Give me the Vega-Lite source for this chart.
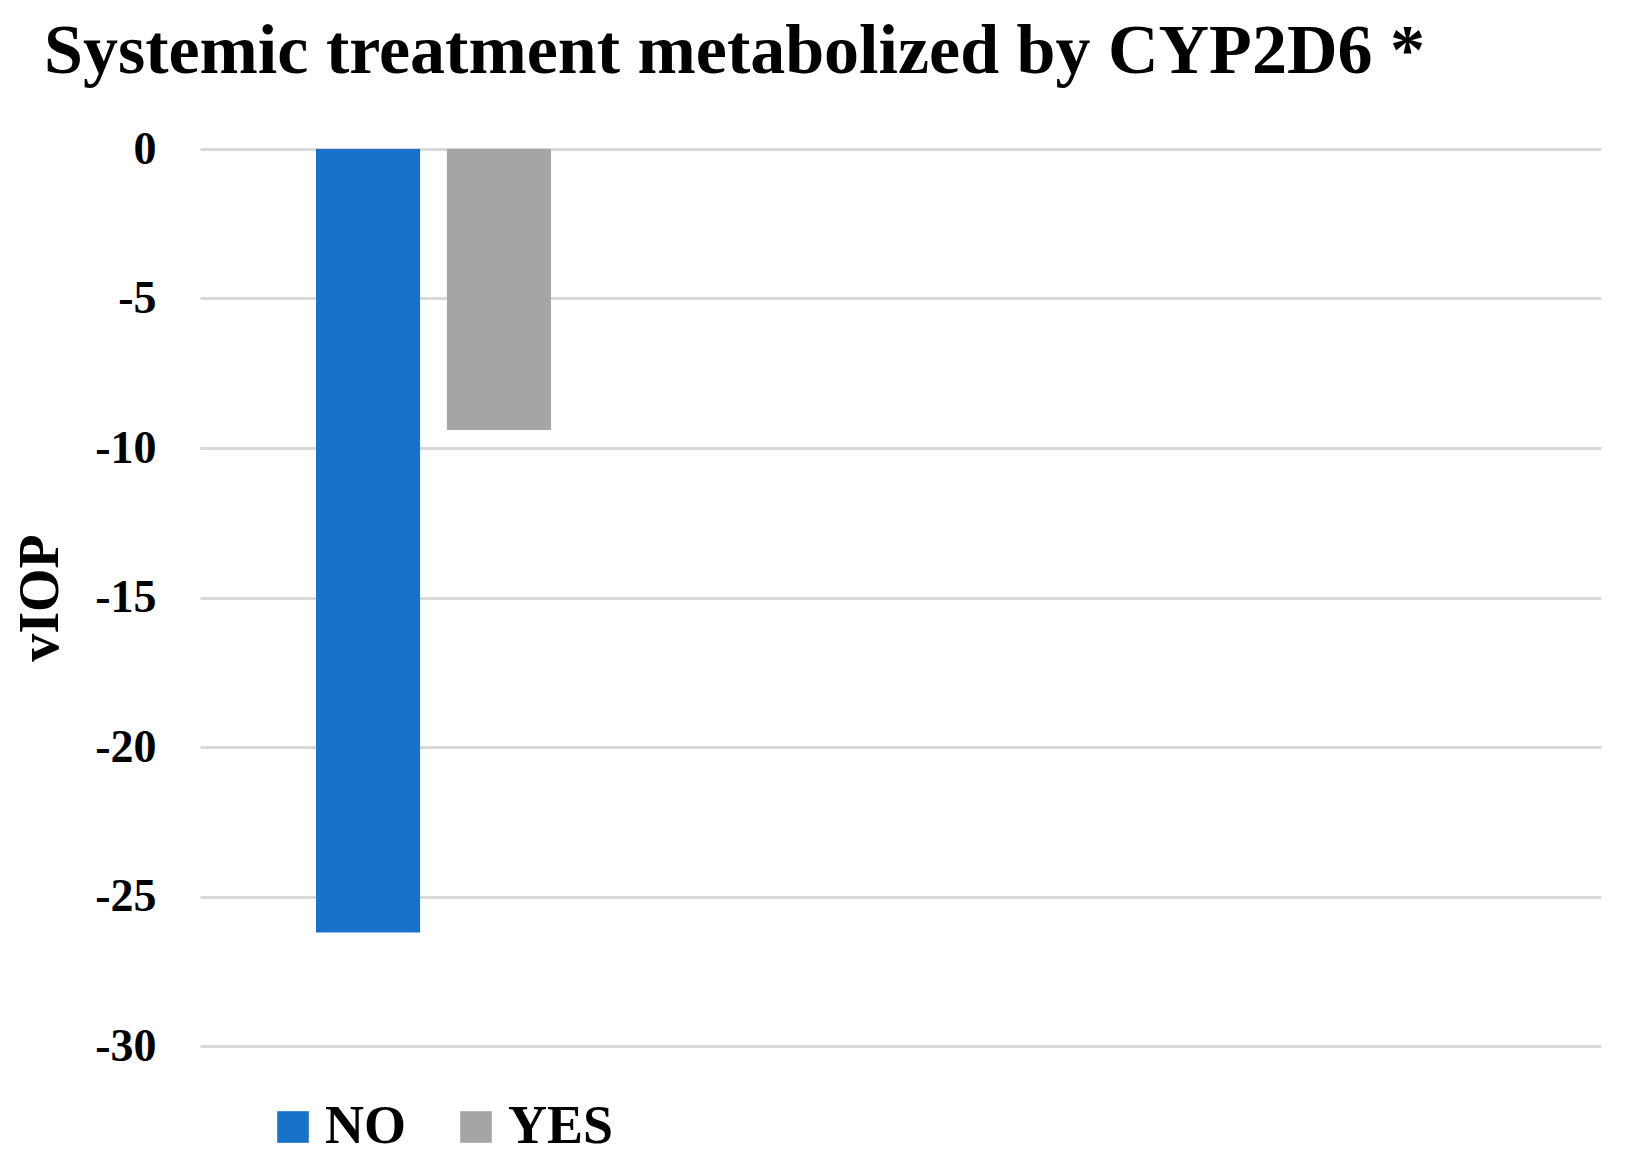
{
  "$schema": "https://vega.github.io/schema/vega-lite/v6.json",
  "width": 1401,
  "height": 897,
  "autosize": {"type": "none"},
  "padding": {"left": 200, "top": 149, "right": 29, "bottom": 112},
  "background": "white",
  "config": {
    "view": {"stroke": null},
    "font": "Liberation Serif"
  },
  "title": {
    "text": "Systemic treatment metabolized by CYP2D6 *",
    "anchor": "start",
    "frame": "group",
    "dx": -156,
    "offset": 38,
    "font": "Liberation Serif",
    "fontSize": 70,
    "fontWeight": "bold",
    "color": "#000000"
  },
  "data": {
    "values": [
      {"group": "A", "series": "NO", "value": -26.2},
      {"group": "A", "series": "YES", "value": -9.4}
    ]
  },
  "mark": {"type": "bar"},
  "encoding": {
    "x": {
      "field": "group",
      "type": "nominal",
      "scale": {"domain": ["A", "B", "C"], "paddingInner": 0, "paddingOuter": 0},
      "axis": null
    },
    "xOffset": {
      "field": "series",
      "type": "nominal",
      "scale": {"domain": ["NO", "YES"], "paddingInner": 0.205, "paddingOuter": 0.886}
    },
    "y": {
      "field": "value",
      "type": "quantitative",
      "scale": {"domain": [-30, 0], "nice": false},
      "axis": {
        "values": [-30, -25, -20, -15, -10, -5, 0],
        "labelExpr": "datum.value + ''",
        "grid": true,
        "gridColor": "#d9d9d9",
        "gridWidth": 3,
        "domain": false,
        "ticks": false,
        "labelFont": "Liberation Serif",
        "labelFontWeight": "bold",
        "labelFontSize": 46,
        "labelColor": "#000000",
        "labelPadding": 44,
        "title": "vIOP",
        "titleFont": "Liberation Serif",
        "titleFontWeight": "bold",
        "titleFontSize": 56,
        "titleColor": "#000000",
        "titlePadding": 25
      }
    },
    "color": {
      "field": "series",
      "type": "nominal",
      "scale": {"domain": ["NO", "YES"], "range": ["#1872C9", "#A5A5A5"]},
      "legend": {
        "title": null,
        "orient": "none",
        "direction": "horizontal",
        "legendX": 66,
        "legendY": 951,
        "padding": 0,
        "symbolType": "square",
        "symbolSize": 1000,
        "symbolStrokeWidth": 0,
        "labelFont": "Liberation Serif",
        "labelFontWeight": "bold",
        "labelFontSize": 54,
        "labelColor": "#000000",
        "labelOffset": 5,
        "columnPadding": 43
      }
    }
  }
}
